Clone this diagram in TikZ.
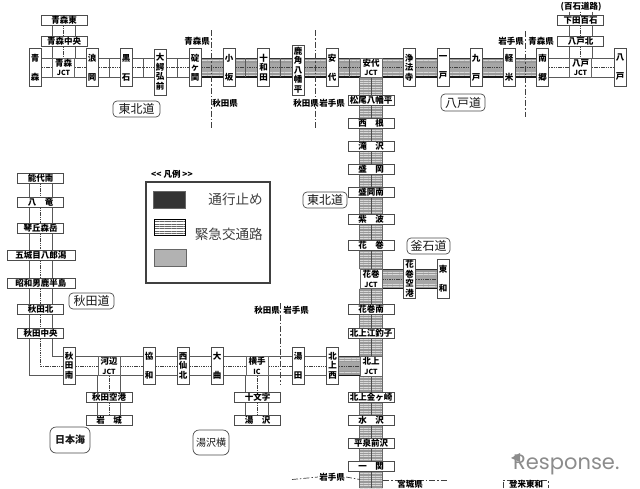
\documentclass[tikz,border=0pt]{standalone}
\usepackage{fontspec}
\setmainfont{Noto Sans CJK JP}
\newfontfamily\wmfont{Poppins}
\usetikzlibrary{backgrounds,patterns.meta}
\tikzset{
  stn/.style={draw=black!70,fill=white,line width=.8pt,inner sep=0pt,font=\bfseries\fontsize{8.5}{9.5}\selectfont},
  vbox/.style={stn,minimum width=12,minimum height=#1,align=center},
  hbox/.style={stn,minimum width=46,minimum height=10},
  widebox/.style={stn,minimum width=68,minimum height=10},
  jctbox/.style={stn,draw=black!60,line width=.6pt,minimum width=22,minimum height=19,align=center},
  roadname/.style={draw=black!70,fill=white,rounded corners=4pt,line width=.7pt,inner sep=0pt,font=\fontsize{12}{13}\selectfont,text=black!90},
  preflabel/.style={inner sep=0pt,font=\bfseries\fontsize{8.5}{9.5}\selectfont},
  roadline/.style={draw=black!65,line width=.7pt},
  roaddot/.style={draw=black!75,line width=.8pt,dash pattern=on 1.5pt off .8pt},
  prefline/.style={draw=black!75,line width=.7pt,dash pattern=on 6pt off 2pt on 1.5pt off 2pt},
  hstripe/.style={preaction={fill=black!40},pattern={Lines[angle=0,distance=2.4pt,line width=.9pt]},pattern color=white!85!black},
  legendtext/.style={inner sep=0pt,font=\fontsize{13.6}{15}\selectfont,text=black!75}
}
\newcommand{\hroad}[3]{%
  \draw[roadline] (#1.east |- 0,#3-9.5) -- (#2.west |- 0,#3-9.5);
  \draw[roaddot] (#1.east |- 0,#3) -- (#2.west |- 0,#3);
  \draw[roadline] (#1.east |- 0,#3+9.5) -- (#2.west |- 0,#3+9.5);}
\newcommand{\hband}[3]{%
  \fill[hstripe] (#1.east |- 0,#3-9.5) rectangle (#2.west |- 0,#3+9.5);
  \fill[black!35] (#1.east |- 0,#3-4.5) rectangle (#2.west |- 0,#3+4.5);
  \draw[roaddot] (#1.east |- 0,#3) -- (#2.west |- 0,#3);
  \draw[black!80,line width=.8pt] (#1.east |- 0,#3-9.5) -- (#2.west |- 0,#3-9.5);
  \draw[black!90,line width=1.4pt] (#1.east |- 0,#3+9.5) -- (#2.west |- 0,#3+9.5);}
\newcommand{\vroad}[3]{%
  \draw[roadline] (#3-11.5,0 |- #1.south) -- (#3-11.5,0 |- #2.north);
  \draw[roaddot] (#3,0 |- #1.south) -- (#3,0 |- #2.north);
  \draw[roadline] (#3+11.5,0 |- #1.south) -- (#3+11.5,0 |- #2.north);}
\newcommand{\vband}[3]{%
  \fill[hstripe] (#3-11.5,0 |- #1.south) rectangle (#3+11.5,0 |- #2.north);
  \draw[black!60,line width=.7pt] (#3-11.5,0 |- #1.south) -- (#3-11.5,0 |- #2.north);
  \draw[black!70,line width=1pt] (#3,0 |- #1.south) -- (#3,0 |- #2.north);
  \draw[black!60,line width=.7pt] (#3+11.5,0 |- #1.south) -- (#3+11.5,0 |- #2.north);}
\begin{document}
\begin{tikzpicture}[x=1pt,y=-1pt]
\useasboundingbox (0,0) rectangle (640,488);
%top row
\node[vbox=38] (aomori) at (35,67.5) {青\\[9.5pt]森};
\node[jctbox] (aomorijct) at (63.5,67.5) {青森\\{\fontsize{7}{8}\selectfont JCT}};
\node[vbox=38] (namioka) at (92,67.5) {浪\\[9.5pt]岡};
\node[vbox=38] (kuroishi) at (126,67.5) {黒\\[9.5pt]石};
\node[vbox=46] (owani) at (160,72) {大\\鰐\\弘\\前};
\node[vbox=38] (ikari) at (195,67.5) {碇\\ヶ\\関};
\node[vbox=38] (kosaka) at (229,67.5) {小\\[9.5pt]坂};
\node[vbox=38] (towada) at (263.5,67.5) {十\\和\\田};
\node[vbox=50] (kazuno) at (298,70) {鹿\\角\\八\\幡\\平};
\node[vbox=38] (ashiro) at (332,67.5) {安\\[9.5pt]代};
\node[jctbox] (ashirojct) at (371,67.5) {安代\\{\fontsize{7}{8}\selectfont JCT}};
\node[vbox=38] (joboji) at (409,67.5) {浄\\法\\寺};
\node[vbox=38] (ichinohe) at (443,67.5) {一\\[9.5pt]戸};
\node[vbox=38] (kunohe) at (476,67.5) {九\\[9.5pt]戸};
\node[vbox=38] (karumai) at (509,67.5) {軽\\[9.5pt]米};
\node[vbox=38] (nango) at (542.5,67.5) {南\\[9.5pt]郷};
\node[jctbox] (hachinohejct) at (580.5,67.5) {八戸\\{\fontsize{7}{8}\selectfont JCT}};
\node[vbox=38] (hachinohe) at (620,67.5) {八\\[9.5pt]戸};
\node[hbox] (aomorihigashi) at (64,20) {青森東};
\node[hbox] (aomorichuo) at (64,41) {青森中央};
\node[hbox] (shimoda) at (580.5,20) {下田百石};
\node[hbox] (hachinohekita) at (580.5,41) {八戸北};
\node[preflabel] (hyakuseki) at (581,7) {(百石道路)};
%main line
\node[hbox] (matsuo) at (371,100.5) {松尾八幡平};
\node[hbox] (nishine) at (371,123) {西　根};
\node[hbox] (takizawa) at (371,146) {滝　沢};
\node[hbox] (morioka) at (371,169) {盛　岡};
\node[hbox] (moriokaminami) at (371,192.5) {盛岡南};
\node[hbox] (shiwa) at (371,219) {紫　波};
\node[hbox] (hanamaki) at (371,245) {花　巻};
\node[jctbox] (hanamakijct) at (371,279) {花巻\\{\fontsize{7}{8}\selectfont JCT}};
\node[hbox] (hanamakiminami) at (371,309.5) {花巻南};
\node[hbox] (esashi) at (371,333) {北上江釣子};
\node[jctbox,minimum height=20] (kitakamijct) at (371,366) {北上\\{\fontsize{7}{8}\selectfont JCT}};
\node[hbox] (kanegasaki) at (371,397) {北上金ヶ崎};
\node[hbox] (mizusawa) at (371,420) {水　沢};
\node[hbox] (hiraizumi) at (371,443) {平泉前沢};
\node[hbox] (ichinoseki) at (371,466) {一　関};
\coordinate (mainend) at (371,488);
%kamaishi
\node[vbox=39] (kukou) at (409.5,279) {花\\巻\\空\\港};
\node[vbox=39] (towa) at (443,279) {東\\[9.5pt]和};
%akita column
\node[hbox] (noshiro) at (40.5,178) {能代南};
\node[hbox] (hachiryu) at (40.5,202) {八　竜};
\node[hbox] (kotooka) at (40.5,228) {琴丘森岳};
\node[widebox] (gojome) at (41,255) {五城目八郎潟};
\node[widebox] (showa) at (41,283) {昭和男鹿半島};
\node[hbox] (akitakita) at (40.5,309) {秋田北};
\node[hbox] (akitachuo) at (40.5,333) {秋田中央};
%bottom row
\node[vbox=37] (akitaminami) at (69,365.5) {秋\\田\\南};
\node[jctbox] (kawabe) at (109,366) {河辺\\{\fontsize{7}{8}\selectfont JCT}};
\node[vbox=37] (kyowa) at (149,365.5) {協\\[9.5pt]和};
\node[vbox=37] (nishisen) at (183,365.5) {西\\仙\\北};
\node[vbox=37] (omagari) at (217,365.5) {大\\[9.5pt]曲};
\node[jctbox] (yokote) at (257,366) {横手\\{\fontsize{7}{8}\selectfont IC}};
\node[vbox=37] (yuda) at (298,365.5) {湯\\[9.5pt]田};
\node[vbox=37] (kitakaminishi) at (332.5,365.5) {北\\上\\西};
\node[hbox] (akitakuko) at (109,397) {秋田空港};
\node[hbox] (iwaki) at (109,420) {岩　城};
\node[hbox] (jumonji) at (257.5,397) {十文字};
\node[hbox] (yuzawa) at (257.5,420) {湯　沢};
%road names
\node[roadname,minimum width=47,minimum height=16] (tohoku) at (136.5,109) {東北道};
\node[roadname,minimum width=44,minimum height=17] (hachinohedo) at (463,102.5) {八戸道};
\node[roadname,minimum width=44,minimum height=16] (tohokub) at (325,200) {東北道};
\node[roadname,minimum width=43,minimum height=16] (kamaishi) at (428.5,246) {釜石道};
\node[roadname,minimum width=45,minimum height=16] (akitado) at (91.5,301) {秋田道};
\node[roadname,rounded corners=6pt,minimum width=40,minimum height=26,font=\bfseries\fontsize{10}{11}\selectfont] (nihonkai) at (70,440) {日本海};
\node[roadname,rounded corners=6pt,minimum width=36,minimum height=25,font=\fontsize{10}{11}\selectfont] (yuzawayoko) at (211,442.5) {湯沢横};
%prefectures
\node[preflabel] (aomorikena) at (197,41) {青森県};
\node[preflabel] (akitakena) at (225,103) {秋田県};
\node[preflabel] (akitakenb) at (306,103) {秋田県};
\node[preflabel] (iwatekena) at (332,103) {岩手県};
\node[preflabel] (iwatekenb) at (511,41) {岩手県};
\node[preflabel] (aomorikenb) at (541,41) {青森県};
\node[preflabel] (akitakenc) at (267,310) {秋田県};
\node[preflabel] (iwatekenc) at (296,310) {岩手県};
\node[preflabel,fill=white,inner xsep=1pt] (iwatekend) at (332,477) {岩手県};
\node[preflabel] (miyagiken) at (410,484) {宮城県};
\node[preflabel] (tome) at (526,484) {登米東和};
%legend
\node[preflabel,font=\bfseries\fontsize{8.5}{9}\selectfont] (legendtitle) at (172,174) {<{}< 凡例 >{}>};
\draw[black!75,line width=1.8pt] (146,182) rectangle (270,283);
\fill[black!80] (153.5,191) rectangle (185,208);
\draw[black!60,line width=.5pt] (153.5,191) rectangle (185,208);
\fill[pattern={Lines[angle=0,distance=2.4pt,line width=.8pt]},pattern color=black!60] (154,219) rectangle (185,235);
\draw[black,line width=.5pt] (154,219) rectangle (185,235);
\draw[black,line width=1.2pt] (154,235.5) -- (185,235.5);
\draw[black!60,line width=.6pt,fill=black!30] (154,249.5) rectangle (186,266);
\node[legendtext,anchor=east] (legendclosed) at (263,199) {通行止め};
\node[legendtext,anchor=east] (legendemerg) at (263,234) {緊急交通路};
%watermark
\node[inner sep=0pt,anchor=west,text=black!45] (response) at (513,465) {\wmfont\fontsize{21}{21}\selectfont Response.};
\fill[black!45] (511,458) -- (520,453) -- (520,462) -- cycle;
\begin{scope}[on background layer]
\foreach \a/\b in {aomori/aomorijct,aomorijct/namioka,namioka/kuroishi,kuroishi/owani,owani/ikari,nango/hachinohejct,hachinohejct/hachinohe} {\hroad{\a}{\b}{67.5}}
\foreach \a/\b in {ikari/kosaka,kosaka/towada,towada/kazuno,kazuno/ashiro,ashiro/ashirojct,ashirojct/joboji,joboji/ichinohe,ichinohe/kunohe,kunohe/karumai,karumai/nango} {\hband{\a}{\b}{67.5}}
\foreach \x in {109,143,177,245,280,349} \draw[roadline] (\x,58) -- (\x,77);
\vroad{aomorihigashi}{aomorichuo}{63.5}
\vroad{aomorichuo}{aomorijct}{63.5}
\vroad{shimoda}{hachinohekita}{580.5}
\vroad{hachinohekita}{hachinohejct}{580.5}
\vroad{hyakuseki}{shimoda}{580.5}
\foreach \a/\b in {ashirojct/matsuo,matsuo/nishine,nishine/takizawa,takizawa/morioka,morioka/moriokaminami,moriokaminami/shiwa,shiwa/hanamaki,hanamaki/hanamakijct,hanamakijct/hanamakiminami,hanamakiminami/esashi,esashi/kitakamijct,kitakamijct/kanegasaki,kanegasaki/mizusawa,mizusawa/hiraizumi,hiraizumi/ichinoseki,ichinoseki/mainend} {\vband{\a}{\b}{371}}
\hband{hanamakijct}{kukou}{279}
\hband{kukou}{towa}{279}
\hband{kitakaminishi}{kitakamijct}{366}
\foreach \a/\b in {noshiro/hachiryu,hachiryu/kotooka,kotooka/gojome,gojome/showa,showa/akitakita,akitakita/akitachuo} {\vroad{\a}{\b}{40.5}}
\draw[roadline] (52,0 |- akitachuo.south) |- (akitaminami.west |- 0,356.5);
\draw[roaddot] (40.5,0 |- akitachuo.south) |- (akitaminami.west |- 0,366);
\draw[roadline] (29,0 |- akitachuo.south) |- (akitaminami.west |- 0,375.5);
\foreach \a/\b in {akitaminami/kawabe,kawabe/kyowa,kyowa/nishisen,nishisen/omagari,omagari/yokote,yokote/yuda,yuda/kitakaminishi} {\hroad{\a}{\b}{366}}
\vroad{kawabe}{akitakuko}{109}
\vroad{akitakuko}{iwaki}{109}
\vroad{yokote}{jumonji}{257}
\vroad{jumonji}{yuzawa}{257}
\draw[prefline] (211.5,30) -- (211.5,129);
\draw[prefline] (315,30) -- (315,129);
\draw[prefline] (525.5,31) -- (525.5,117);
\draw[prefline] (280,303) -- (280,385);
\draw[prefline] (292,479.5) -- (iwatekend.west);
\draw[prefline] (iwatekend.east) -- (360,479.5);
\draw[prefline] (383,480) -- (448,480);
\draw[prefline] (503,488) |- (548,480) -- (548,488);
\end{scope}
\end{tikzpicture}
\end{document}
